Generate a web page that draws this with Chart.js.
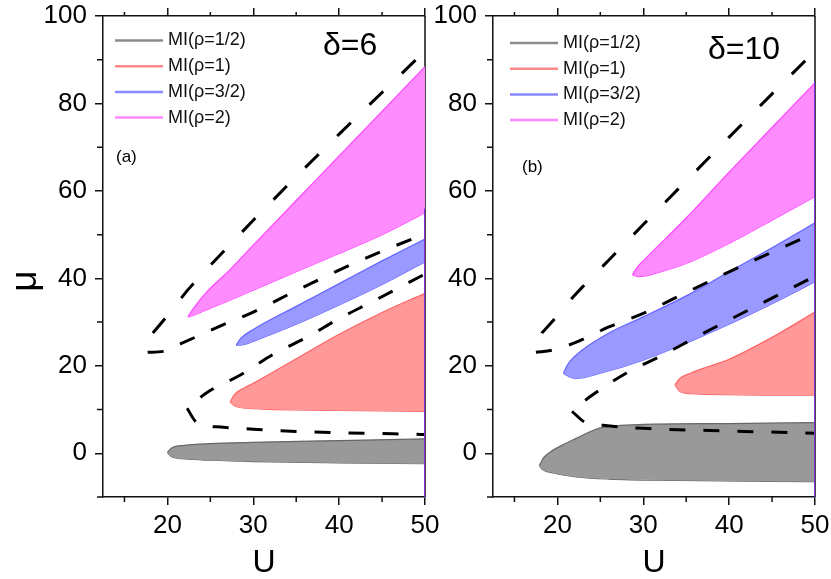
<!DOCTYPE html>
<html>
<head>
<meta charset="utf-8">
<script src="https://cdn.jsdelivr.net/npm/chart.js@4.4.1/dist/chart.umd.min.js"></script>
<style>
  html, body { margin: 0; padding: 0; background: #fff; }
  #wrap { position: relative; width: 831px; height: 579px; overflow: hidden; }
  canvas { position: absolute; top: 0; }
  #left { left: 0; }
  #right { left: 410px; }
</style>
</head>
<body>
<div id="wrap">
  <canvas id="left" width="442" height="579"></canvas>
  <canvas id="right" width="421" height="579"></canvas>
</div>
<script>
// axis ticks
const xTicks = [20, 30, 40, 50];
const xMinor = [15, 25, 35, 45];
const yTicks = [0, 20, 40, 60, 80, 100];
const yMinor = [-10, 10, 30, 50, 70, 90];
const legendLabels = ['MI(ρ=1/2)', 'MI(ρ=1)', 'MI(ρ=3/2)', 'MI(ρ=2)'];

// panel (a), delta = 6 : [U, mu] along the upper and lower edge of each region
const aGrayTop = [[20,0.2],[20.5,1.2],[22,1.8],[25,2.2],[30,2.5],[40,2.9],[50,3.3]];
const aGrayBot = [[20,0.2],[20.5,-0.8],[22,-1.3],[25,-1.6],[30,-1.9],[40,-2.2],[50,-2.4]];
const aRedTop = [[27.3,11.7],[27.8,13.4],[29,15.0],[30,16.0],[35,21.6],[40,27.2],[45,32.2],[50,36.6]];
const aRedBot = [[27.3,11.7],[28,10.7],[30,10.2],[35,9.9],[40,9.8],[45,9.7],[50,9.6]];
const aBlueTop = [[28,24.7],[28.5,26.2],[30,28.3],[35,33.6],[40,38.8],[45,44],[50,49]];
const aBlueBot = [[28,24.7],[29,24.9],[30,25.6],[35,29.5],[40,33.9],[45,38.6],[50,43.8]];
const aPinkTop = [[22.4,31.2],[23,33],[24.4,36.5],[27.3,42],[30,47.6],[35,57.8],[40,68],[45,78.2],[50,88.4]];
const aPinkBot = [[22.4,31.2],[23,31.5],[25,33.2],[27.3,35],[30,37.3],[35,41.5],[40,45.7],[45,50],[50,55]];
// dashed boundaries
const aDashA = [[17.7,23.1],[18.3,27.5],[19.8,31],[22.3,37.2],[25,43],[30,53.3],[35,63.3],[40,73],[45,82.5],[50,92]];
const aDashB = [[17.7,23.1],[19.5,23.3],[21.5,25],[25.8,28.8],[30,32.3],[35,37.2],[40,41.9],[45,46.2],[50,50.2]];
const aDashC = [[22.3,10.3],[24.7,14],[28.5,17.9],[32.3,22.6],[36.3,26.6],[40,30.8],[44,34.8],[50,41]];
const aDashD = [[22.3,10.3],[23.3,7.2],[24.5,6.3],[26.2,6.0],[30,5.5],[35,5.0],[40,4.7],[45,4.5],[50,4.3]];
const aEdgeTop = 56;

// panel (b), delta = 10
const bGrayTop = [[17.9,-2.8],[18.4,-1],[19.1,0.2],[20.5,1.8],[22.2,3.4],[24.5,5.5],[26.9,6.3],[30,6.6],[40,6.8],[50,7.0]];
const bGrayBot = [[17.9,-2.8],[18.2,-3.6],[19.5,-4.5],[22.2,-5.4],[26,-5.9],[33.9,-6.2],[50,-6.5]];
const bRedTop = [[33.7,15.6],[34.2,17],[35.5,18.3],[37.7,19.9],[40,21.5],[45,26.5],[50,32.3]];
const bRedBot = [[33.7,15.6],[34.3,14.1],[36,13.6],[40,13.4],[45,13.3],[50,13.3]];
const bBlueTop = [[20.7,18.3],[21.2,20.3],[22.9,23.6],[26,27.5],[30,31.2],[35,36],[40,41.5],[45,47],[50,52.7]];
const bBlueBot = [[20.7,18.3],[21.5,17.4],[22.2,17.1],[25,18.3],[30,21.3],[35,25.2],[40,29.5],[45,34.2],[50,39.2]];
const bPinkTop = [[28.75,40.8],[29.2,42.3],[30,44],[35,53.8],[40,64.3],[45,74.5],[50,84.7]];
const bPinkBot = [[28.75,40.8],[29.5,40.4],[32,41.5],[35,43.4],[40,48],[45,53.3],[50,58.7]];
const bDashA = [[17.5,23.1],[18.2,27.5],[19.8,31],[21.8,35.7],[22.9,38],[26,44.2],[30,52.3],[35,62.3],[40,72.3],[45,82.2],[50,92]];
const bDashB = [[17.5,23.1],[19.4,23.6],[22.2,25.4],[26,28.9],[30,32],[33.9,35.7],[40,41.5],[45,46],[50,50.4]];
const bDashC = [[21.7,9.6],[23.7,12.8],[28,18.3],[32.3,22.5],[36.2,26.6],[40,30.5],[44,34.5],[50,40.5]];
const bDashD = [[21.7,9.6],[23.2,7.1],[25.3,6.4],[30,5.7],[37.7,5.2],[50,4.6]];
const bEdgeTop = 85;

const fillColors = ['#999999', '#ff9999', '#9999ff', '#ff8cff'];
const edgeColors = ['#666666', '#ff6464', '#6464ff', '#ff44ff'];
const legendColors = ['#8c8c8c', '#ff8a8a', '#8a8aff', '#ff8aff'];
const FONT = '"Liberation Sans", Arial, sans-serif';

const pts = arr => arr.map(p => ({ x: p[0], y: p[1] }));

// frame, minor ticks and in-panel texts
const decor = {
    id: 'decor',
    beforeDatasetsDraw(chart) {
        const { ctx, chartArea: a } = chart;
        ctx.save();
        ctx.strokeStyle = '#111';
        ctx.lineWidth = 1.5;
        ctx.beginPath();
        ctx.moveTo(a.right, a.top);
        ctx.lineTo(a.right, a.bottom);
        ctx.stroke();
        ctx.restore();
    },
    afterDraw(chart, args, o) {
        const { ctx, chartArea: a, scales } = chart;
        ctx.save();
        ctx.strokeStyle = '#111';
        ctx.lineWidth = 1.5;
        ctx.beginPath();
        xMinor.forEach(v => {
            const px = scales.x.getPixelForValue(v);
            ctx.moveTo(px, a.bottom); ctx.lineTo(px, a.bottom + 5);
            ctx.moveTo(px, a.top); ctx.lineTo(px, a.top - 4);
        });
        yMinor.forEach(v => {
            const py = scales.y.getPixelForValue(v);
            ctx.moveTo(a.left, py); ctx.lineTo(a.left - 6, py);
        });
        ctx.stroke();

        // legend
        ctx.lineWidth = 2.5;
        ctx.textBaseline = 'middle';
        ctx.font = '18px ' + FONT;
        legendLabels.forEach((t, i) => {
            const y = o.legY + i * o.legDy;
            ctx.strokeStyle = legendColors[i];
            ctx.beginPath();
            ctx.moveTo(a.left + o.legX, y);
            ctx.lineTo(a.left + o.legX + 48, y);
            ctx.stroke();
            ctx.fillStyle = '#111';
            ctx.fillText(t, a.left + o.legX + 53, y);
        });

        ctx.fillStyle = '#000';
        ctx.font = '32px ' + FONT;
        ctx.fillText(o.delta, o.deltaX, o.deltaY);
        ctx.font = '17px ' + FONT;
        ctx.fillText(o.tag, o.tagX, o.tagY);

        if (o.mu) {
            ctx.translate(26, 281);
            ctx.rotate(-Math.PI / 2);
            ctx.textAlign = 'center';
            ctx.font = '37px ' + FONT;
            ctx.fillText('μ', 0, 0);
        }
        ctx.restore();
    }
};

function makeChart(id, lobes, dashes, edgeTop, axisW, padRight, text) {
    const datasets = [];
    const curve = { cubicInterpolationMode: 'monotone', pointRadius: 0, showLine: true };
    datasets.push({
        data: pts([[50, -10], [50, edgeTop]]),
        borderColor: '#8a2be2', borderWidth: 2, pointRadius: 0, showLine: true, fill: false, order: 0
    });
    dashes.forEach(d => datasets.push({
        pointRadius: 0, showLine: true,
        cubicInterpolationMode: d.straight ? 'default' : 'monotone', tension: 0,
        data: pts(d.line), borderColor: '#000', borderWidth: 3,
        borderDash: d.dash, borderDashOffset: d.offset, fill: false, order: 1
    }));
    // each region: upper edge filled down to the lower edge that follows it
    lobes.forEach((l, i) => {
        datasets.push({
            ...curve, data: pts(l[0]), backgroundColor: fillColors[i], borderColor: edgeColors[i],
            borderWidth: 1.2, fill: '+1', order: 2
        });
        datasets.push({
            ...curve, data: pts(l[1]), borderColor: edgeColors[i], borderWidth: 1.2, fill: false, order: 2
        });
    });

    const grid = { drawOnChartArea: false, drawTicks: true, tickLength: 8, color: '#111', lineWidth: 1.5 };
    const border = { display: true, color: '#111', width: 1.5 };
    const xTickSet = s => { s.ticks = xTicks.map(v => ({ value: v })); };

    return new Chart(document.getElementById(id), {
        type: 'scatter',
        data: { datasets },
        options: {
            responsive: false,
            animation: false,
            layout: { padding: { top: 8, right: padRight, bottom: 0, left: 0 } },
            plugins: { legend: { display: false }, tooltip: { enabled: false }, decor: text },
            scales: {
                x: {
                    type: 'linear', position: 'bottom', min: 12.5, max: 50,
                    afterBuildTicks: xTickSet,
                    afterFit: s => { s.height = 82; s.paddingLeft = 0; s.paddingRight = 0; },
                    grid, border,
                    ticks: { color: '#000', font: { family: FONT, size: 26 }, padding: 5, maxRotation: 0 },
                    title: { display: true, text: 'U', color: '#000', font: { family: FONT, size: 32, lineHeight: 1 }, padding: { top: 0, bottom: 0 } }
                },
                x2: {
                    type: 'linear', position: 'top', min: 12.5, max: 50,
                    afterBuildTicks: xTickSet,
                    afterFit: s => { s.height = 8; s.paddingLeft = 0; s.paddingRight = 0; },
                    grid, border,
                    ticks: { display: false }
                },
                y: {
                    type: 'linear', position: 'left', min: -10, max: 100,
                    afterBuildTicks: s => { s.ticks = yTicks.map(v => ({ value: v })); },
                    afterFit: s => { s.width = axisW; s.paddingTop = 0; s.paddingBottom = 0; },
                    grid, border,
                    ticks: { color: '#000', font: { family: FONT, size: 26 }, padding: 8 }
                }
            }
        },
        plugins: [decor]
    });
}

makeChart('left',
    [[aGrayTop, aGrayBot], [aRedTop, aRedBot], [aBlueTop, aBlueBot], [aPinkTop, aPinkBot]],
    [{ line: aDashA, dash: [19, 26], offset: 25, straight: true }, { line: aDashB, dash: [16, 18], offset: 0 },
     { line: aDashC, dash: [16, 18], offset: 17 }, { line: aDashD, dash: [16, 18], offset: 0 }],
    aEdgeTop, 103, 17,
    { legX: 12, legY: 40.5, legDy: 25.7, delta: 'δ=6', deltaX: 323, deltaY: 46, tag: '(a)', tagX: 116, tagY: 157, mu: true });

makeChart('right',
    [[bGrayTop, bGrayBot], [bRedTop, bRedBot], [bBlueTop, bBlueBot], [bPinkTop, bPinkBot]],
    [{ line: bDashA, dash: [19, 26], offset: 25, straight: true }, { line: bDashB, dash: [16, 18], offset: 0 },
     { line: bDashC, dash: [16, 18], offset: 17 }, { line: bDashD, dash: [16, 18], offset: 0 }],
    bEdgeTop, 83, 16,
    { legX: 17, legY: 43, legDy: 25.7, delta: 'δ=10', deltaX: 298, deltaY: 50, tag: '(b)', tagX: 112, tagY: 167, mu: false });
</script>
</body>
</html>
